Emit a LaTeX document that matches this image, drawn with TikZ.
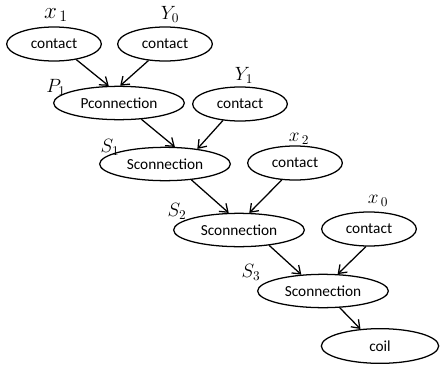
\documentclass[tikz,border=0pt]{standalone}
\usepackage{amsmath}
\usepackage{fontspec}
\setsansfont{Carlito}
\usetikzlibrary{shapes.geometric,arrows.meta}

\tikzset{
  blk/.style={draw,ellipse,line width=0.95pt,inner sep=0pt,font=\sffamily\fontsize{11.5}{13}\selectfont},
  contact/.style={blk,minimum width=71pt,minimum height=25.5pt},
  conn/.style={blk,minimum width=98pt,minimum height=25pt},
  coilbox/.style={blk,minimum width=88pt,minimum height=26pt},
  lbl/.style={inner sep=0pt},
  link/.style={-{Straight Barb[length=5.5pt,width=8pt]},line width=0.95pt}
}

\begin{document}
\begin{tikzpicture}[x=0.75pt,y=-0.75pt]
\useasboundingbox (0,0) rectangle (440,372);
% ladder blocks
\node[contact] (c1) at (54,44) {contact};
\node[contact] (c2) at (165,44) {contact};
\node[conn] (p1) at (119,103) {Pconnection};
\node[contact] (c3) at (240,104) {contact};
\node[conn] (s1) at (165,164) {Sconnection};
\node[contact] (c4) at (295,163) {contact};
\node[conn] (s2) at (239,230) {Sconnection};
\node[contact] (c5) at (369,229) {contact};
\node[conn] (s3) at (323,291) {Sconnection};
\node[coilbox] (coil) at (380,346) {coil};
% variable names
\node[lbl] (nx1) at (56,15) {\LARGE$x_{\,1}$};
\node[lbl] (ny0) at (170,14) {\Large$Y_0$};
\node[lbl] (np1) at (56,87) {\Large$P_1$};
\node[lbl] (ny1) at (244,75) {\Large$Y_1$};
\node[lbl] (ns1) at (110,147) {\Large$S_1$};
\node[lbl] (nx2) at (299,139) {\Large$x_{\,2}$};
\node[lbl] (ns2) at (177,211) {\Large$S_2$};
\node[lbl] (nx0) at (378,201) {\Large$x_{\,0}$};
\node[lbl] (ns3) at (251,272) {\Large$S_3$};
% links
\draw[link] (c1.-35) -- (p1.121);
\draw[link] (c2.-135) -- (p1.86);
\draw[link] (p1.-36) -- (s1.60);
\draw[link] (c3.-136) -- (s1.25);
\draw[link] (s1.-31) -- (s2.121);
\draw[link] (c4.-128) -- (s2.59);
\draw[link] (s2.-27) -- (s3.143);
\draw[link] (c5.-100) -- (s3.49);
\draw[link] (s3.-45) -- (coil.139);
\end{tikzpicture}
\end{document}
